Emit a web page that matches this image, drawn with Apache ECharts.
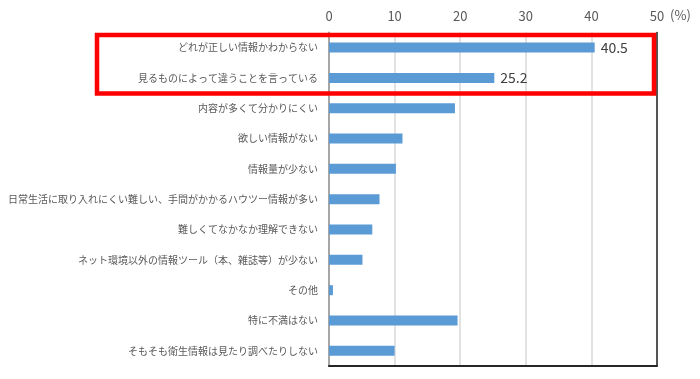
<!DOCTYPE html>
<html>
<head>
<meta charset="utf-8">
<script src="https://cdn.jsdelivr.net/npm/echarts@6/dist/echarts.min.js"></script>
<style>html,body{margin:0;padding:0;background:#fff;}#c{width:700px;height:379px;}</style>
</head>
<body>
<div id="c"></div>
<script>
const categories = [
  'どれが正しい情報かわからない',
  '見るものによって違うことを言っている',
  '内容が多くて分かりにくい',
  '欲しい情報がない',
  '情報量が少ない',
  '日常生活に取り入れにくい難しい、手間がかかるハウツー情報が多い',
  '難しくてなかなか理解できない',
  'ネット環境以外の情報ツール（本、雑誌等）が少ない',
  'その他',
  '特に不満はない',
  'そもそも衛生情報は見たり調べたりしない'
];
const values = [40.5, 25.2, 19.2, 11.2, 10.2, 7.7, 6.6, 5.1, 0.6, 19.6, 10.0];
const labeledCount = 2;
const xTicks = [0, 10, 20, 30, 40, 50];

const chart = echarts.init(document.getElementById('c'), null, {renderer: 'canvas'});
const jp = '"Noto Sans CJK JP", "Noto Sans", sans-serif';
const option = {
  animation: false,
  grid: {left: 329, right: 43, top: 32.4, bottom: 13, containLabel: false, outerBoundsMode: 'none'},
  xAxis: [{
    type: 'value', position: 'top', min: xTicks[0], max: xTicks[xTicks.length - 1], interval: 10,
    axisLine: {show: false},
    axisTick: {show: false},
    axisLabel: {color: '#595959', fontSize: 13, fontFamily: jp, margin: 10},
    splitLine: {show: true, lineStyle: {color: '#D9D9D9', width: 1.5}},
    name: '(%)', nameLocation: 'end', nameGap: 9,
    nameTextStyle: {color: '#595959', fontSize: 13, fontFamily: jp, align: 'left', verticalAlign: 'bottom', padding: [0, 0, 11, 0]}
  }, {
    type: 'value', position: 'bottom', min: 0, max: 50,
    axisLine: {show: true, onZero: false, lineStyle: {color: '#262626', width: 2}},
    axisTick: {show: false}, axisLabel: {show: false}, splitLine: {show: false}
  }],
  yAxis: [{
    type: 'category', data: categories, inverse: true,
    axisLine: {show: true, onZero: false, lineStyle: {color: '#A6A6A6', width: 2}},
    axisTick: {show: false},
    axisLabel: {color: '#595959', fontSize: 10, fontFamily: jp, margin: 11}
  }, {
    type: 'category', data: categories, inverse: true, position: 'right',
    axisLine: {show: true, onZero: false, lineStyle: {color: '#262626', width: 1.5}},
    axisTick: {show: false}, axisLabel: {show: false}
  }],
  series: [{
    type: 'bar',
    data: values.map((v, i) => ({
      value: v,
      label: {show: i < labeledCount}
    })),
    barWidth: 10,
    itemStyle: {color: '#5B9BD5'},
    label: {position: 'right', distance: 6, color: '#404040', fontSize: 14, fontFamily: jp},
    z: 3
  }]
};
chart.setOption(option);

// red highlight box around first two categories (annotation)
const y0 = chart.convertToPixel({yAxisIndex: 0}, categories[0]);
const y1 = chart.convertToPixel({yAxisIndex: 0}, categories[1]);
const band = y1 - y0;
chart.setOption({
  graphic: [{
    type: 'rect', z: 100,
    shape: {x: 97, y: y0 - band / 2 + 2.5, width: 557, height: band * 2 - 2},
    style: {fill: 'none', stroke: '#FF0000', lineWidth: 4.5}
  }]
});
</script>
</body>
</html>
